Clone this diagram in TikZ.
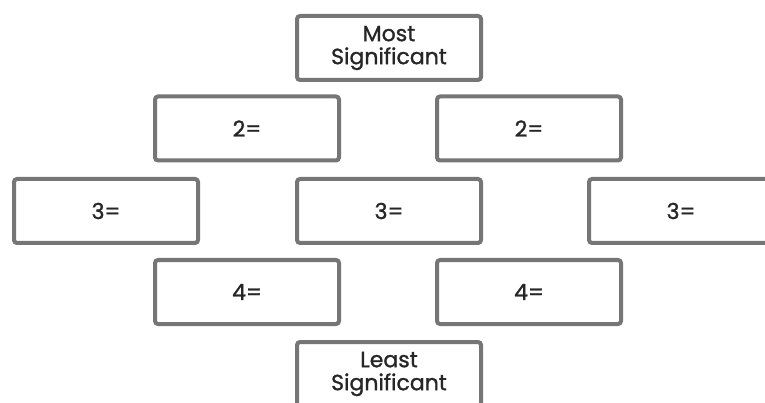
\documentclass[tikz,border=0pt]{standalone}
\usepackage{fontspec}
\setmainfont{Poppins}[FakeBold=1.2]
\definecolor{boxline}{HTML}{767676}
\definecolor{boxtext}{HTML}{262626}
\tikzset{
  levelbox/.style={draw=boxline, line width=4pt, rounded corners=3pt, fill=white,
    minimum width=184pt, minimum height=64pt, inner sep=0pt,
    text=boxtext, font=\fontsize{22}{23}\selectfont, align=center}
}
\begin{document}
\begin{tikzpicture}[x=1pt,y=-1pt]
  \useasboundingbox (0,0) rectangle (765,403);
  \clip (0,0) rectangle (765,403);
  \node[levelbox] (most) at (389,48) {Most\\Significant};
  \node[levelbox] (twoL) at (247,128.5) {2=};
  \node[levelbox] (twoR) at (529,128.5) {2=};
  \node[levelbox] (threeL) at (106,211) {3=};
  \node[levelbox] (threeM) at (389,211) {3=};
  \node[levelbox] (threeR) at (681,211) {3=};
  \node[levelbox] (fourL) at (247,292) {4=};
  \node[levelbox] (fourR) at (529,292) {4=};
  \node[levelbox] (least) at (389,374) {Least\\Significant};
\end{tikzpicture}
\end{document}
